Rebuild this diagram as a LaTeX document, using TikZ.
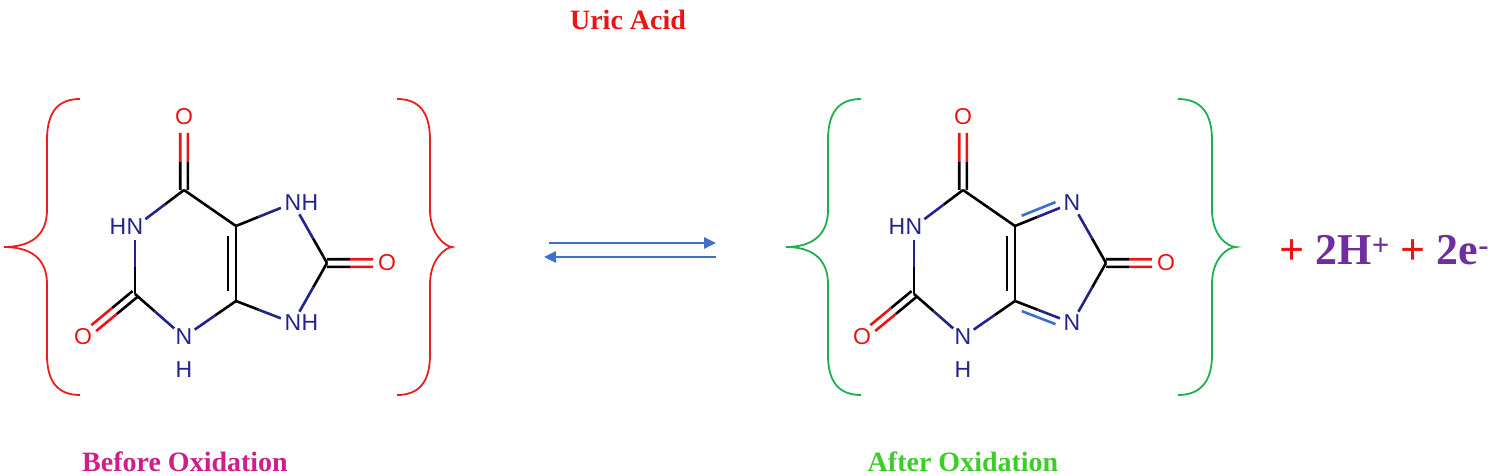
\documentclass[tikz,border=0pt]{standalone}
\usepackage{fontspec}
\setmainfont{Liberation Serif}
\newfontfamily\atomfont{Liberation Sans}
\usetikzlibrary{calc,arrows.meta}
\definecolor{navy}{RGB}{35,35,140}
\definecolor{ored}{RGB}{235,20,20}
\definecolor{bred}{RGB}{235,30,30}
\definecolor{bgreen}{RGB}{30,175,80}
\definecolor{tgreen}{RGB}{60,205,40}
\definecolor{tmag}{RGB}{205,30,140}
\definecolor{purp}{RGB}{110,45,160}
\definecolor{lblue}{RGB}{60,110,200}
\definecolor{arrblue}{RGB}{65,110,205}
\tikzset{
  atom/.style={font=\atomfont\fontsize{23}{23}\selectfont, inner sep=0pt},
  nat/.style={atom, text=navy},
  oat/.style={atom, text=ored},
  bondline/.style={line width=2.6pt},
  brace/.style={line width=1.8pt},
  eqarrow/.style={line width=2.6pt, draw=arrblue, -{Triangle[length=12pt,width=11pt]}},
  title/.style={font=\bfseries\fontsize{28}{28}\selectfont}
}
% bond: A, B, colour at A, colour at B, shorten at A, shorten at B, offset
\newcommand\bnd[7]{%
  \path ($(#1)!#5!(#2)$) coordinate (p1) ($(#2)!#6!(#1)$) coordinate (p2);
  \path ($(p1)!#7!90:(p2)$) coordinate (q1) ($(p2)!#7!-90:(p1)$) coordinate (q2);
  \path ($(q1)!.5!(q2)$) coordinate (mm);
  \draw[bondline,#3] (q1) -- (mm);
  \draw[bondline,#4] (mm) -- (q2);}
\newcommand\mol[2]{%
  \coordinate (#1C6) at (184,190);
  \coordinate (#1C2) at (135,294);
  \coordinate (#1C4) at (236,301);
  \coordinate (#1C5) at (236,226);
  \coordinate (#1C8) at (327,263);
  \node[oat] (#1O6) at (184,117) {O};
  \node[oat] (#1O2) at (83,337) {O};
  \node[oat] (#1O8) at (387,263) {O};
  \node[nat] (#1N1) at (135,227) {N};
  \node[nat,anchor=east] (#1H1) at (#1N1.west) {H};
  \node[nat] (#1N3) at (184,337) {N};
  \node[nat] (#1H3) at (184,370) {H};
  \node[nat] (#1N7) at (293,203) {N};
  \node[nat] (#1N9) at (293,323) {N};
  \ifnum#2=0
    \node[nat,anchor=west] (#1H7) at (#1N7.east) {H};
    \node[nat,anchor=west] (#1H9) at (#1N9.east) {H};
  \fi
  % C=O double bonds
  \bnd{#1C6}{#1O6}{black}{ored}{0pt}{16pt}{3.8pt}
  \bnd{#1C6}{#1O6}{black}{ored}{0pt}{16pt}{-3.8pt}
  \bnd{#1C2}{#1O2}{black}{ored}{0pt}{14pt}{3.8pt}
  \bnd{#1C2}{#1O2}{black}{ored}{0pt}{14pt}{-3.8pt}
  \bnd{#1C8}{#1O8}{black}{ored}{0pt}{14pt}{3.8pt}
  \bnd{#1C8}{#1O8}{black}{ored}{0pt}{14pt}{-3.8pt}
  % ring
  \bnd{#1C6}{#1N1}{black}{navy}{0pt}{13pt}{0pt}
  \bnd{#1N1}{#1C2}{navy}{black}{13pt}{0pt}{0pt}
  \bnd{#1C2}{#1N3}{black}{navy}{0pt}{13pt}{0pt}
  \bnd{#1N3}{#1C4}{navy}{black}{13pt}{0pt}{0pt}
  \bnd{#1C4}{#1C5}{black}{black}{0pt}{0pt}{0pt}
  \bnd{#1C4}{#1C5}{black}{black}{10pt}{10pt}{8pt}
  \bnd{#1C5}{#1C6}{black}{black}{0pt}{0pt}{0pt}
  \bnd{#1C5}{#1N7}{black}{navy}{0pt}{13pt}{0pt}
  \bnd{#1N7}{#1C8}{navy}{black}{13pt}{0pt}{0pt}
  \bnd{#1C8}{#1N9}{black}{navy}{0pt}{13pt}{0pt}
  \bnd{#1N9}{#1C4}{navy}{black}{13pt}{0pt}{0pt}
  \ifnum#2=1
    \bnd{#1C5}{#1N7}{lblue}{lblue}{10pt}{15pt}{7pt}
    \bnd{#1N9}{#1C4}{lblue}{lblue}{15pt}{10pt}{7pt}
  \fi
}
\begin{document}
\begin{tikzpicture}[x=1pt,y=-1pt]
\useasboundingbox (0,0) rectangle (1500,476);
% titles
\node[title,text=ored] (uric) at (628,20) {Uric Acid};
\node[title,text=tmag] (before) at (185,462) {Before Oxidation};
\node[title,text=tgreen] (after) at (963,462) {After Oxidation};
% molecules
\begin{scope}
\mol{a}{0}
\end{scope}
\begin{scope}[xshift=779pt]
\mol{b}{1}
\end{scope}
% braces
\draw[brace,bred] (80,99) .. controls (58,99) and (47,112) .. (47,140) -- (47,210) .. controls (47,236) and (30,247) .. (4,247)
  .. controls (30,247) and (47,258) .. (47,284) -- (47,355) .. controls (47,382) and (58,395) .. (80,395);
\draw[brace,bred] (397,99) .. controls (419,99) and (430,112) .. (430,140) -- (430,210) .. controls (430,236) and (447,247) .. (452,247)
  .. controls (447,247) and (430,258) .. (430,284) -- (430,355) .. controls (430,382) and (419,395) .. (397,395);
\draw[brace,bgreen] (861,99) .. controls (839,99) and (828,112) .. (828,140) -- (828,210) .. controls (828,236) and (811,247) .. (786,247)
  .. controls (811,247) and (828,258) .. (828,284) -- (828,355) .. controls (828,382) and (839,395) .. (861,395);
\draw[brace,bgreen] (1178,99) .. controls (1200,99) and (1212,112) .. (1212,140) -- (1212,210) .. controls (1212,236) and (1228,247) .. (1236,247)
  .. controls (1228,247) and (1212,258) .. (1212,284) -- (1212,355) .. controls (1212,382) and (1200,395) .. (1178,395);
% equilibrium arrows
\coordinate (r1) at (549,243); \coordinate (r2) at (716,243);
\coordinate (l1) at (716,257); \coordinate (l2) at (544,257);
\draw[eqarrow] (r1) -- (r2);
\draw[eqarrow] (l1) -- (l2);
% products
\node[font=\bfseries\fontsize{44}{44}\selectfont, anchor=west] (prod) at (1276,250)
 {\textcolor{ored}{+} \textcolor{purp}{2H\textsuperscript{+}} \textcolor{ored}{+} \textcolor{purp}{2e\textsuperscript{-}}};
\end{tikzpicture}
\end{document}
